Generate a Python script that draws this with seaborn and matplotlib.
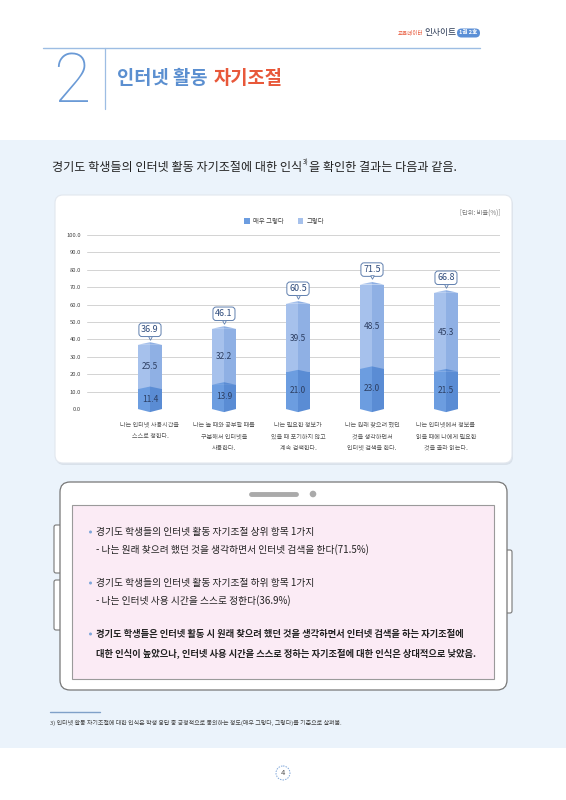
import matplotlib
matplotlib.use('Agg')
import matplotlib.pyplot as plt
import seaborn as sns
from matplotlib.patches import FancyBboxPatch, Rectangle, Polygon, Circle, Patch

# 데이터
categories = ['나는 인터넷 사용시간을\n스스로 정한다.',
              '나는 놀 때와 공부할 때를\n구분해서 인터넷을\n사용한다.',
              '나는 필요한 정보가\n있을 때 포기하지 않고\n계속 검색한다.',
              '나는 원래 찾으려 했던\n것을 생각하면서\n인터넷 검색을 한다.',
              '나는 인터넷에서 정보를\n읽을 때에 나에게 필요한\n것을 골라 읽는다.']
very_agree = [11.4, 13.9, 21.0, 23.0, 21.5]
agree = [25.5, 32.2, 39.5, 48.5, 45.3]
totals = [36.9, 46.1, 60.5, 71.5, 66.8]
series_names = ['매우 그렇다', '그렇다']
y_ticks = [0, 10, 20, 30, 40, 50, 60, 70, 80, 90, 100]

light_l, light_r = '#a6c1ec', '#8fb0e4'
dark_l, dark_r = '#6c9de0', '#5a8cd4'
navy = '#2c3e62'

sns.set_theme(style='white')
plt.rcParams['font.family'] = ['Noto Sans CJK KR', 'DejaVu Sans']

fig = plt.figure(figsize=(5.66, 8.0), dpi=100)
page = fig.add_axes([0, 0, 1, 1], zorder=0)
page.set_xlim(0, 566)
page.set_ylim(800, 0)
page.axis('off')
renderer = fig.canvas.get_renderer()

# 머리글
page.text(398, 33, '교육데이터', fontsize=4, color='#e8583a', va='center')
page.text(424, 33, '인사이트', fontsize=6.3, color='#2b3a55', va='center')
page.add_patch(FancyBboxPatch((457, 28.5), 23, 9, boxstyle='round,pad=0,rounding_size=4.5',
                              fc='#5b8fd6', ec='none'))
page.text(468.5, 33, '1권 2호', fontsize=4, color='white', ha='center', va='center', weight='bold')
page.plot([43, 480], [48, 48], color='#9dbde3', lw=1)
page.plot([105, 105], [48, 109], color='#9dbde3', lw=0.9)
page.text(71.5, 83, '2', fontsize=49, color='#6a9ad6', ha='center', va='center',
          family=['Roboto', 'DejaVu Sans'], weight='light')
tt = page.text(117, 79, '인터넷 활동', fontsize=13.5, color='#5b8fd0', weight=900, va='center')
page.text(tt.get_window_extent(renderer).x1 + 6, 79, '자기조절', fontsize=13.5, color='#e8583a',
          weight=900, va='center')

# 배경
page.add_patch(Rectangle((0, 140), 566, 608, fc='#ebf3fb', ec='none'))

# 도입 문장
t1 = page.text(52, 167, '경기도 학생들의 인터넷 활동 자기조절에 대한 인식', fontsize=8.7, color='#222', va='center')
x1 = t1.get_window_extent(renderer).x1
t2 = page.text(x1 + 0.5, 163, '3)', fontsize=4.5, color='#222', va='center')
x2 = t2.get_window_extent(renderer).x1
page.text(x2 + 0.5, 167, '을 확인한 결과는 다음과 같음.', fontsize=8.7, color='#222', va='center')

# 차트 상자
page.add_patch(FancyBboxPatch((56, 197), 457, 268, boxstyle='round,pad=0,rounding_size=8',
                              fc='#d9e1ea', ec='none'))
page.add_patch(FancyBboxPatch((55, 195), 457, 268, boxstyle='round,pad=0,rounding_size=8',
                              fc='white', ec='#e2e7ee', lw=0.8))
page.text(500, 213, '[단위: 비율(%)]', fontsize=4.5, color='#777', ha='right', va='center')

ax = fig.add_axes([87 / 566, 1 - 409 / 800, 413 / 566, 174 / 800], zorder=1)
ax.patch.set_alpha(0)

sns.barplot(x=categories, y=totals, color=light_l, width=0.33, saturation=1, linewidth=0, ax=ax)
sns.barplot(x=categories, y=very_agree, color=dark_l, width=0.33, saturation=1, linewidth=0, ax=ax)

n = len(categories)
peak = 1.5
for i, p in enumerate(ax.patches[:2 * n]):
    x0, w, h = p.get_x(), p.get_width(), p.get_height()
    xm = x0 + w / 2
    if i < n:
        cl, cr, z = light_l, light_r, 2
    else:
        cl, cr, z = dark_l, dark_r, 3
    p.set_zorder(z)
    ax.add_patch(Rectangle((xm, 0), w / 2, h, fc=cr, ec='none', zorder=z + 0.1))
    ax.add_patch(Polygon([(x0, h), (xm, h + peak), (xm, h)], fc=cl, ec='none', zorder=z + 0.1, clip_on=False))
    ax.add_patch(Polygon([(xm, h), (xm, h + peak), (x0 + w, h)], fc=cr, ec='none', zorder=z + 0.1, clip_on=False))
    if i >= n:
        ax.add_patch(Polygon([(x0, 0), (xm, -1.8), (xm, 0)], fc=dark_l, ec='none', zorder=z + 0.1, clip_on=False))
        ax.add_patch(Polygon([(xm, 0), (xm, -1.8), (x0 + w, 0)], fc=dark_r, ec='none', zorder=z + 0.1, clip_on=False))

# 값 표시
for i in range(n):
    ax.text(i, very_agree[i] / 2, f'{very_agree[i]:.1f}', fontsize=6, color=navy, ha='center', va='center', zorder=6)
    ax.text(i, very_agree[i] + agree[i] / 2, f'{agree[i]:.1f}', fontsize=6, color=navy, ha='center', va='center', zorder=6)
    ax.annotate(f'{totals[i]:.1f}', xy=(i, totals[i]), xytext=(0, 15), textcoords='offset pixels',
                ha='center', va='center', fontsize=6.5, color='#2e4b7c', zorder=7,
                bbox=dict(boxstyle='round,pad=0.25,rounding_size=0.35', fc='white', ec='#5f7fae', lw=0.7))
    ax.plot(i, totals[i] + 4.1, marker='v', ms=2.6, mfc='white', mec='#5f7fae', mew=0.6, zorder=8, clip_on=False)

ax.set_xlim(-0.851, 4.73)
ax.set_ylim(0, 100)
ax.set_yticks(y_ticks)
ax.set_yticklabels([f'{v:.1f}' for v in y_ticks])
ax.yaxis.grid(True, color='#d3d3d3', lw=0.7)
ax.set_axisbelow(True)
ax.tick_params(axis='y', labelsize=4.2, labelcolor='#444', length=0, pad=4.5)
ax.tick_params(axis='x', labelsize=4.4, labelcolor='#555', length=0, pad=8.5)
for lab in ax.get_xticklabels():
    lab.set_linespacing(1.6)
sns.despine(ax=ax, left=True, bottom=True)
ax.set_xlabel('')
ax.set_ylabel('')

handles = [Patch(fc=dark_l, ec='none'), Patch(fc=light_l, ec='none')]
ax.legend(handles, series_names, loc='center', bbox_to_anchor=(0.477, 1.08), ncol=2, frameon=False,
          fontsize=4.6, handlelength=0.9, handleheight=0.9, handletextpad=0.5, columnspacing=2.2,
          labelcolor='#444')

# 태블릿 모양 상자
for bx, by, bw, bh in [(54, 525, 8, 48), (54, 580, 8, 50), (505, 550, 7, 63)]:
    page.add_patch(FancyBboxPatch((bx, by), bw, bh, boxstyle='round,pad=0,rounding_size=2',
                                  fc='white', ec='#777', lw=0.8))
page.add_patch(FancyBboxPatch((60, 482), 447, 208, boxstyle='round,pad=0,rounding_size=10',
                              fc='white', ec='#777', lw=0.9))
page.add_patch(Rectangle((72, 505), 422, 174, fc='#fbebf5', ec='#9a9a9a', lw=0.8))
page.plot([251, 296], [494, 494], lw=3.5, color='#aaaaaa', solid_capstyle='round')
page.add_patch(Circle((313, 494), 3.3, fc='#aaaaaa', ec='none'))

lines = [
    (532, True, '경기도 학생들의 인터넷 활동 자기조절 상위 항목 1가지', 'normal', 7),
    (550, False, '- 나는 원래 찾으려 했던 것을 생각하면서 인터넷 검색을 한다(71.5%)', 'normal', 7),
    (583, True, '경기도 학생들의 인터넷 활동 자기조절 하위 항목 1가지', 'normal', 7),
    (601, False, '- 나는 인터넷 사용 시간을 스스로 정한다(36.9%)', 'normal', 7),
    (634, True, '경기도 학생들은 인터넷 활동 시 원래 찾으려 했던 것을 생각하면서 인터넷 검색을 하는 자기조절에', 'bold', 6.7),
    (653, False, '대한 인식이 높았으나, 인터넷 사용 시간을 스스로 정하는 자기조절에 대한 인식은 상대적으로 낮았음.', 'bold', 6.7),
]
for y, bullet, txt, wt, fs in lines:
    if bullet:
        page.add_patch(Circle((90.5, y), 1.5, fc='#7fa6d9', ec='none'))
    page.text(96, y, txt, fontsize=fs, weight=wt, color='#222', va='center')

# 각주
page.plot([50, 100], [712, 712], color='#7fa0c8', lw=1)
page.text(50, 723, '3) 인터넷 활동 자기조절에 대한 인식은 학생 응답 중 긍정적으로 동의하는 정도(매우 그렇다, 그렇다)를 기준으로 살펴봄.',
          fontsize=4.35, color='#444', va='center')

# 쪽 번호
page.add_patch(Circle((283, 773), 7, fill=False, ec='#7fa6d9', lw=0.7, ls=(0, (1.5, 1.2))))
page.text(283, 773, '4', fontsize=5.5, color='#555', ha='center', va='center')

fig.savefig('out.png', dpi=100)
